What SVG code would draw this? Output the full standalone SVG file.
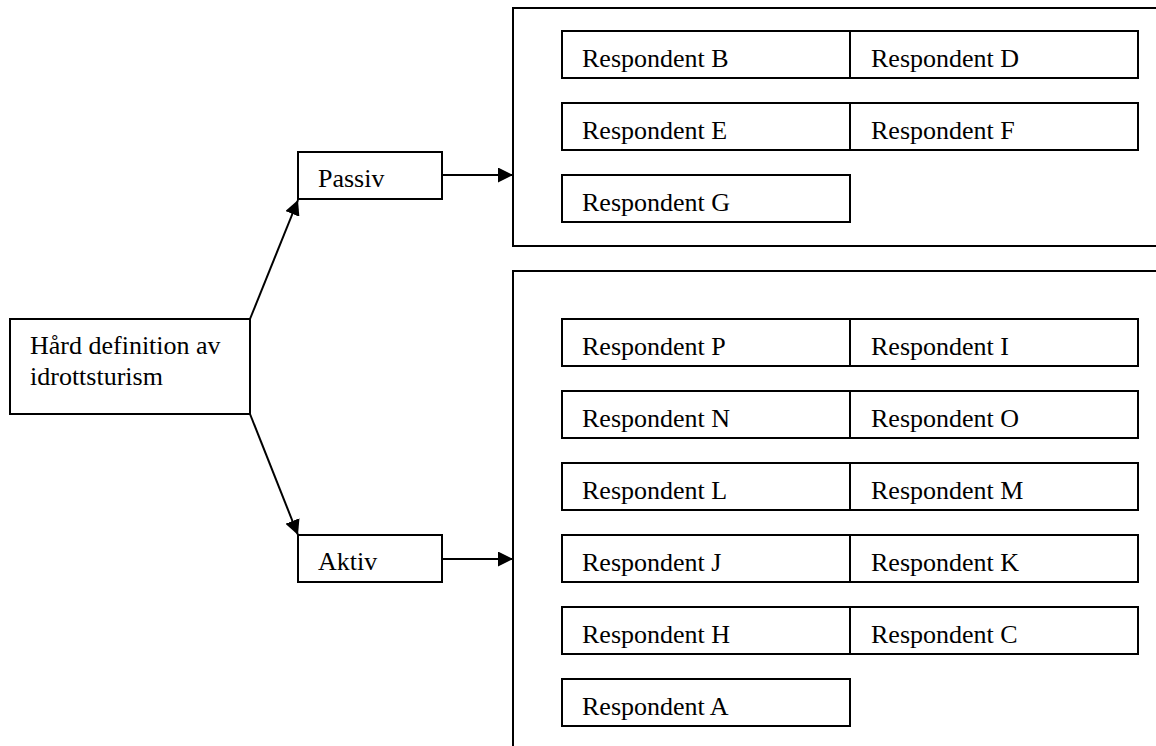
<svg xmlns="http://www.w3.org/2000/svg" width="1156" height="746" viewBox="0 0 1156 746">
<style>
.b{fill:#fff;stroke:#000;stroke-width:2}
.o{fill:none;stroke:#000;stroke-width:2}
.t{font-family:"Liberation Serif","Times New Roman",serif;font-size:26px;fill:#000}
.c{fill:none;stroke:#000;stroke-width:2}
</style>
<defs>
<marker id="ah" viewBox="0 0 15 15" refX="15" refY="7.5" markerWidth="15" markerHeight="15" markerUnits="userSpaceOnUse" orient="auto">
<path d="M0,0 L15,7.5 L0,15 Z" fill="#000"/>
</marker>
</defs>
<rect width="1156" height="746" fill="#fff"/>
<g id="passiv-group">
<path class="o" d="M1160,8 H513 V246 H1160"/>
</g>
<g id="aktiv-group">
<path class="o" d="M1160,271 H513 V746"/>
</g>
<g id="main"><rect class="b" x="10" y="319" width="240" height="95"/><text class="t" x="30" y="354">Hård definition av</text><text class="t" x="30" y="385">idrottsturism</text></g>
<g id="passiv"><rect class="b" x="298" y="152" width="144" height="47"/><text class="t" x="318" y="187">Passiv</text></g>
<g id="aktiv"><rect class="b" x="298" y="535" width="144" height="47"/><text class="t" x="318" y="570">Aktiv</text></g>
<g id="rB"><rect class="b" x="562" y="31" width="288" height="47"/><text class="t" x="582" y="67">Respondent B</text></g>
<g id="rD"><rect class="b" x="850" y="31" width="288" height="47"/><text class="t" x="871" y="67">Respondent D</text></g>
<g id="rE"><rect class="b" x="562" y="103" width="288" height="47"/><text class="t" x="582" y="139">Respondent E</text></g>
<g id="rF"><rect class="b" x="850" y="103" width="288" height="47"/><text class="t" x="871" y="139">Respondent F</text></g>
<g id="rG"><rect class="b" x="562" y="175" width="288" height="47"/><text class="t" x="582" y="211">Respondent G</text></g>
<g id="rP"><rect class="b" x="562" y="319" width="288" height="47"/><text class="t" x="582" y="355">Respondent P</text></g>
<g id="rI"><rect class="b" x="850" y="319" width="288" height="47"/><text class="t" x="871" y="355">Respondent I</text></g>
<g id="rN"><rect class="b" x="562" y="391" width="288" height="47"/><text class="t" x="582" y="427">Respondent N</text></g>
<g id="rO"><rect class="b" x="850" y="391" width="288" height="47"/><text class="t" x="871" y="427">Respondent O</text></g>
<g id="rL"><rect class="b" x="562" y="463" width="288" height="47"/><text class="t" x="582" y="499">Respondent L</text></g>
<g id="rM"><rect class="b" x="850" y="463" width="288" height="47"/><text class="t" x="871" y="499">Respondent M</text></g>
<g id="rJ"><rect class="b" x="562" y="535" width="288" height="47"/><text class="t" x="582" y="571">Respondent J</text></g>
<g id="rK"><rect class="b" x="850" y="535" width="288" height="47"/><text class="t" x="871" y="571">Respondent K</text></g>
<g id="rH"><rect class="b" x="562" y="607" width="288" height="47"/><text class="t" x="582" y="643">Respondent H</text></g>
<g id="rC"><rect class="b" x="850" y="607" width="288" height="47"/><text class="t" x="871" y="643">Respondent C</text></g>
<g id="rA"><rect class="b" x="562" y="679" width="288" height="47"/><text class="t" x="582" y="715">Respondent A</text></g>
<g id="connectors">
<line class="c" x1="250" y1="319" x2="298" y2="200" marker-end="url(#ah)"/>
<line class="c" x1="250" y1="414" x2="298" y2="535" marker-end="url(#ah)"/>
<line class="c" x1="442" y1="175" x2="513" y2="175" marker-end="url(#ah)"/>
<line class="c" x1="442" y1="559" x2="513" y2="559" marker-end="url(#ah)"/>
</g>
</svg>
